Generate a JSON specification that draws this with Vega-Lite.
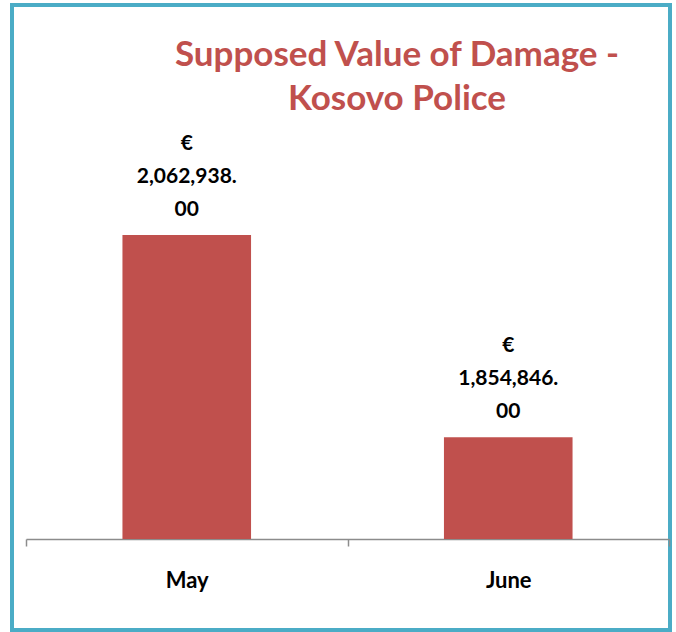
{
  "$schema": "https://vega.github.io/schema/vega-lite/v6.json",
  "width": 658,
  "height": 625,
  "autosize": {"type": "none"},
  "padding": {"left": 12, "top": 5, "right": 6, "bottom": 2},
  "background": "white",
  "config": {
    "view": {"stroke": "#4BACC6", "strokeWidth": 4},
    "font": "Lato"
  },
  "title": {
    "text": ["Supposed Value of Damage -", "Kosovo Police"],
    "color": "#C0504D",
    "font": "Lato",
    "fontSize": 35,
    "fontWeight": "bold",
    "lineHeight": 44,
    "anchor": "middle",
    "frame": "group",
    "baseline": "bottom",
    "offset": 0,
    "dx": 56,
    "dy": 147
  },
  "data": {
    "values": [
      {"month": "May", "value": 2062938.00, "label": "€\n2,062,938.\n00"},
      {"month": "June", "value": 1854846.00, "label": "€\n1,854,846.\n00"}
    ]
  },
  "encoding": {
    "x": {
      "field": "month",
      "type": "nominal",
      "sort": ["May", "June"],
      "scale": {"range": [14, 657], "paddingInner": 0, "paddingOuter": 0},
      "axis": {
        "title": null,
        "orient": "bottom",
        "offset": -91,
        "labelAngle": 0,
        "tickBand": "extent",
        "domainColor": "#8C8C8C",
        "domainWidth": 1.5,
        "tickColor": "#8C8C8C",
        "tickWidth": 1.5,
        "tickSize": 7,
        "labelFont": "Lato",
        "labelFontSize": 22,
        "labelFontWeight": "bold",
        "labelColor": "#000000",
        "labelPadding": 24,
        "grid": false
      }
    },
    "y": {
      "field": "value",
      "type": "quantitative",
      "scale": {"domain": [1750000, 2100000], "range": [534, 194], "zero": false, "nice": false},
      "axis": null
    }
  },
  "layer": [
    {
      "mark": {"type": "bar", "color": "#C0504D", "width": {"band": 0.4}},
      "encoding": {"y2": {"datum": 1750000}}
    },
    {
      "mark": {
        "type": "text",
        "font": "Lato",
        "fontSize": 21,
        "fontWeight": "bold",
        "color": "#000000",
        "baseline": "bottom",
        "align": "center",
        "lineBreak": "\n",
        "lineHeight": 33,
        "dy": -81
      },
      "encoding": {"text": {"field": "label"}}
    }
  ]
}
